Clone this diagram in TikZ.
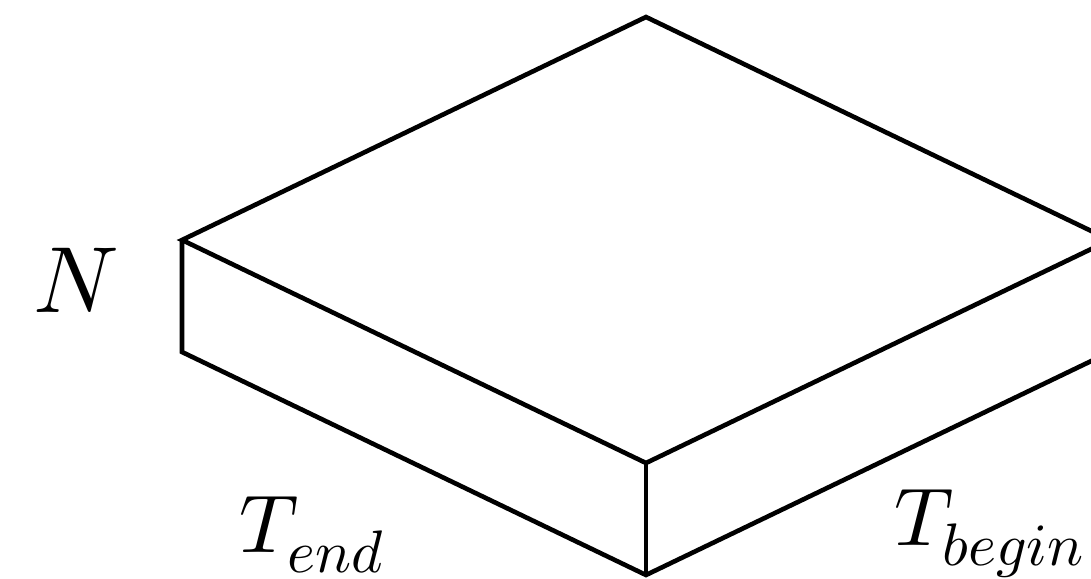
\documentclass[tikz,border=0pt]{standalone}
\usepackage{unicode-math}
\setmathfont{Latin Modern Math}
\DeclareMathSizes{41}{41}{30}{21}
\begin{document}
\begin{tikzpicture}[x=0.5pt,y=-0.5pt,
  edge/.style={line width=2.3pt,line join=miter},
  lbl/.style={inner sep=0pt,anchor=base west}]
\useasboundingbox (0,0) rectangle (1091,578);
\clip (0,0) rectangle (1091,578);
\coordinate (T) at (646,17);
\coordinate (L) at (182,240);
\coordinate (F) at (646,463);
\coordinate (R) at (1110,240);
\coordinate (LB) at (182,352);
\coordinate (FB) at (646,575);
\coordinate (RB) at (1110,352);
\draw[edge] (T) -- (R) -- (F) -- (L) -- cycle;
\draw[edge] (L) -- (LB) -- (FB) -- (RB);
\draw[edge] (F) -- (FB);
\node[lbl,font=\fontsize{47}{56}\selectfont] (n) at (33,312) {$N$};
\node[lbl,font=\fontsize{41}{49}\selectfont] (te) at (239,552) {$T_{end}$};
\node[lbl,font=\fontsize{41}{49}\selectfont] (tb) at (894,545) {$T_{begin}$};
\end{tikzpicture}
\end{document}
